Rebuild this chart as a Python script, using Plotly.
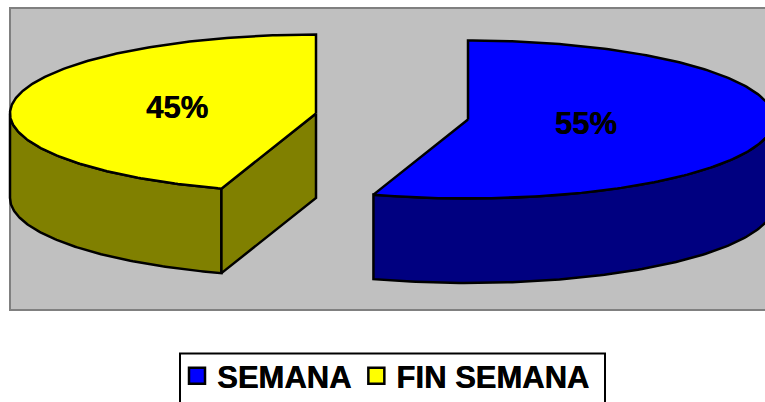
import numpy as np
import plotly.graph_objects as go

# --- data ---
categories = ["SEMANA", "FIN SEMANA"]
values = [55, 45]
top_colors = ["#0000FF", "#FFFF00"]
side_colors = ["#000080", "#808000"]

# --- 3D pie geometry (canvas pixels) ---
centers = [(468, 119.5), (316, 113.5)]   # exploded slice centres
RX, RY, DEPTH = 306, 79, 84.5
label_r = [0.39, 0.46]
LABEL_DY = 2
FONT = "Liberation Sans, Arial, sans-serif"
HEAVY = "0.5px 0 0 black"

total = sum(values)
fractions = [v / total for v in values]
starts = np.cumsum([0] + fractions[:-1]) * 2 * np.pi
ends = starts + np.array(fractions) * 2 * np.pi


def pt(c, a, dz=0.0):
    a = np.asarray(a)
    return c[0] + RX * np.sin(a), c[1] - RY * np.cos(a) + dz


fig = go.Figure()


def poly(xs, ys, fill):
    fig.add_trace(go.Scatter(
        x=list(xs), y=list(ys), mode="lines", fill="toself", fillcolor=fill,
        line=dict(color="black", width=2.5), showlegend=False, hoverinfo="skip"))


for i in [1, 0]:
    c, a0, a1 = centers[i], starts[i], ends[i]
    # visible outer wall: part of arc facing the viewer (90 to 270 deg)
    lo, hi = max(a0, np.pi / 2), min(a1, 3 * np.pi / 2)
    if hi > lo:
        t = np.linspace(lo, hi, 120)
        x1, y1 = pt(c, t)
        x2, y2 = pt(c, t[::-1], DEPTH)
        poly(np.r_[x1, x2, x1[0]], np.r_[y1, y2, y1[0]], side_colors[i])
    # visible cut wall (closing radius of the yellow slice faces front)
    if i == 1:
        ex, ey = pt(c, a0)
        poly([c[0], ex, ex, c[0], c[0]],
             [c[1], ey, ey + DEPTH, c[1] + DEPTH, c[1]], side_colors[i])
    # top face
    t = np.linspace(a0, a1, 240)
    x, y = pt(c, t)
    poly(np.r_[c[0], x, c[0]], np.r_[c[1], y, c[1]], top_colors[i])

# percent labels
for i in range(len(values)):
    mid = (starts[i] + ends[i]) / 2
    c = centers[i]
    fig.add_trace(go.Scatter(
        x=[c[0] + label_r[i] * RX * np.sin(mid)],
        y=[c[1] - label_r[i] * RY * np.cos(mid) + LABEL_DY],
        mode="text", text=[f"{values[i]}%"], textposition="middle center",
        textfont=dict(family=FONT, size=31, color="black", weight="bold", shadow=HEAVY),
        showlegend=False, hoverinfo="skip"))

# legend entries
for name, col in zip(categories, top_colors):
    fig.add_trace(go.Scatter(
        x=[None], y=[None], mode="markers", name=name,
        marker=dict(symbol="square", size=16, color=col,
                    line=dict(color="black", width=2.5))))

fig.update_layout(
    width=765, height=402, autosize=False,
    margin=dict(l=0, r=0, t=0, b=0, autoexpand=False),
    paper_bgcolor="white", plot_bgcolor="white",
    xaxis=dict(range=[0, 765], visible=False, fixedrange=True),
    yaxis=dict(range=[402, 0], visible=False, fixedrange=True),
    hovermode=False,
    shapes=[
        dict(type="rect", xref="x", yref="y", x0=10, x1=790, y0=8, y1=310,
             fillcolor="#C0C0C0", line=dict(color="#808080", width=2), layer="below"),
        dict(type="rect", xref="x", yref="y", x0=180, x1=605, y0=353.5, y1=420,
             fillcolor="white", line=dict(color="black", width=2), layer="below"),
    ],
    legend=dict(orientation="h", x=177 / 765, xanchor="left", y=1 - 349 / 402, yanchor="top",
                bgcolor="rgba(0,0,0,0)", borderwidth=0,
                font=dict(family=FONT, size=31, color="black", weight="bold", shadow=HEAVY),
                itemclick=False, itemdoubleclick=False),
)
fig.write_html("out.html", config={"displayModeBar": False},
               post_script="document.body.style.margin='0';document.body.style.overflow='hidden';")
